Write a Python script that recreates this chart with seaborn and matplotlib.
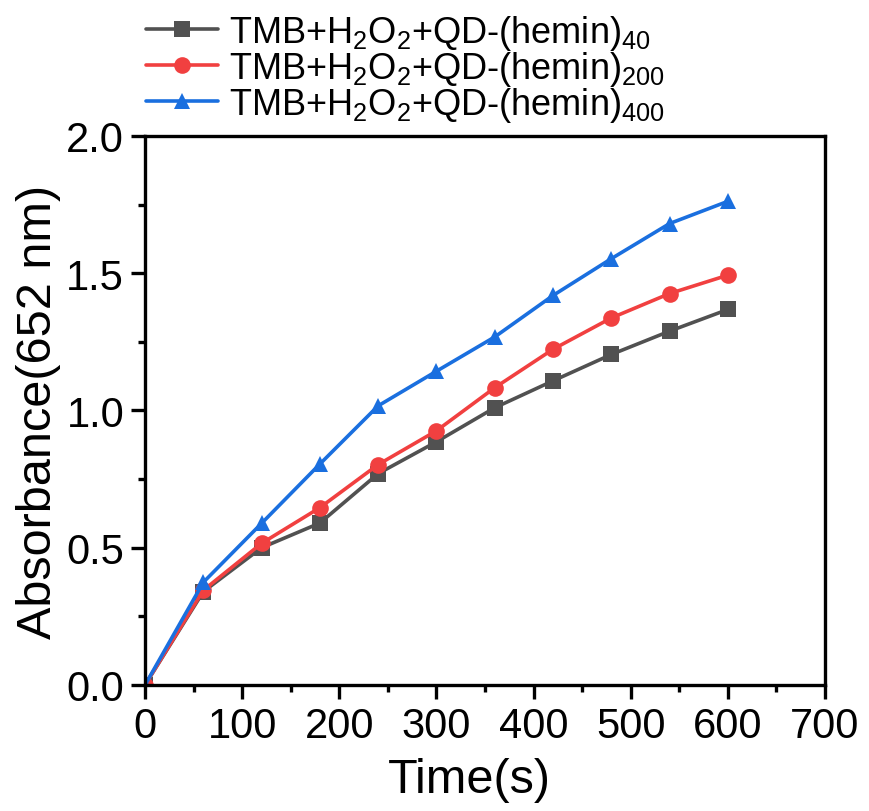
import pandas as pd
import matplotlib
matplotlib.use("Agg")
import matplotlib.pyplot as plt
import seaborn as sns
from matplotlib.ticker import MultipleLocator

# data
time = [0, 60, 120, 180, 240, 300, 360, 420, 480, 540, 600]
hemin40 = [0, 0.34, 0.50, 0.59, 0.77, 0.886, 1.01, 1.108, 1.204, 1.289, 1.368]
hemin200 = [0, 0.345, 0.516, 0.646, 0.803, 0.926, 1.083, 1.223, 1.337, 1.426, 1.493]
hemin400 = [0, 0.374, 0.589, 0.805, 1.017, 1.143, 1.268, 1.419, 1.553, 1.681, 1.762]
labels = [r"TMB+H$_2$O$_2$+QD-(hemin)$_{40}$",
          r"TMB+H$_2$O$_2$+QD-(hemin)$_{200}$",
          r"TMB+H$_2$O$_2$+QD-(hemin)$_{400}$"]
colors = ["#515151", "#F14040", "#1A6FDF"]

rows = []
for lab, vals in zip(labels, [hemin40, hemin200, hemin400]):
    for t, v in zip(time, vals):
        rows.append({"Time": t, "Abs": v, "Sample": lab})
df = pd.DataFrame(rows)

sns.set_style("ticks")
plt.rcParams["font.family"] = ["Liberation Sans", "DejaVu Sans"]
plt.rcParams["mathtext.default"] = "regular"
for k in ["text.color", "axes.labelcolor", "xtick.color", "ytick.color"]:
    plt.rcParams[k] = "black"

fig = plt.figure(figsize=(8.69, 8.12), dpi=100)
ax = fig.add_axes([0.1669, 0.1552, 0.7825, 0.6761])

sns.lineplot(data=df, x="Time", y="Abs", hue="Sample", style="Sample",
             palette=colors, markers=["s", "o", "^"], dashes=False,
             markersize=12, markeredgewidth=0, linewidth=2.6, ax=ax)

ax.set_xlim(0, 700)
ax.set_ylim(0, 2.0)
ax.xaxis.set_major_locator(MultipleLocator(100))
ax.xaxis.set_minor_locator(MultipleLocator(50))
ax.yaxis.set_major_locator(MultipleLocator(0.5))
ax.yaxis.set_minor_locator(MultipleLocator(0.25))
ax.yaxis.set_major_formatter(matplotlib.ticker.FormatStrFormatter("%.1f"))

for s in ax.spines.values():
    s.set_linewidth(2.4)
    s.set_color("black")
ax.tick_params(which="major", direction="out", length=10, width=2.4,
               labelsize=30, pad=5, top=False, right=False)
ax.tick_params(which="minor", direction="out", length=5, width=2.4,
               top=False, right=False)

ax.set_xlabel("Time(s)", fontsize=35, labelpad=8)
ax.xaxis.label.set_x(0.477)
ax.set_ylabel("Absorbance(652 nm)", fontsize=35, labelpad=4)

ax.legend(loc="upper left", bbox_to_anchor=(0.160, 0.992), bbox_transform=fig.transFigure,
          frameon=False, fontsize=26, handlelength=2.0, handletextpad=0.3,
          labelspacing=-0.08, borderaxespad=0.0, borderpad=0.2)

fig.savefig("out.png", dpi=100)
